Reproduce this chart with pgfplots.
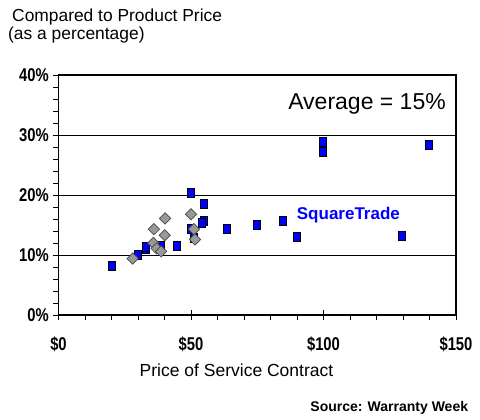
\documentclass[border=0pt]{standalone}
\usepackage{fontspec}
\setmainfont{Liberation Sans}
\usepackage{graphicx}
\usepackage{pgfplots}
\pgfplotsset{compat=1.18}
\definecolor{sqblue}{RGB}{0,0,255}
\definecolor{dgray}{RGB}{153,153,153}
\definecolor{dgrayline}{RGB}{70,70,70}
\newcommand\tl[1]{\scalebox{0.8}[1]{\fontsize{18.5}{18.5}\selectfont\bfseries #1}}
\begin{document}
\begin{tikzpicture}
\useasboundingbox (0pt,0pt) rectangle (480pt,420pt);
\node[anchor=base west, inner sep=0pt, font=\fontsize{17.4}{17.4}\selectfont] at (12pt,398pt) {Compared to Product Price};
\node[anchor=base west, inner sep=0pt, font=\fontsize{17.4}{17.4}\selectfont] at (8pt,380.5pt) {(as a percentage)};
\begin{axis}[at={(58.5pt,105pt)}, anchor=south west, scale only axis,
  width=397.5pt, height=240pt,
  xmin=0, xmax=150, ymin=0, ymax=40,
  xtick={0,50,100,150},
  xticklabels={\tl{\$0},\tl{\$50},\tl{\$100},\tl{\$150}},
  minor xtick={10,20,30,40,60,70,80,90,110,120,130,140},
  ytick={0,10,20,30,40},
  yticklabels={\tl{0\%},\tl{10\%},\tl{20\%},\tl{30\%},\tl{40\%}},
  minor ytick={2,4,6,8,12,14,16,18,22,24,26,28,32,34,36,38},
  xtick pos=bottom, ytick pos=left,
  tick align=outside, major tick length=5.5pt, minor tick length=5.5pt,
  tick style={black, line width=0.8pt},
  axis line style={line width=1.1pt},
  ymajorgrids, grid style={black, line width=0.9pt},
  xticklabel style={anchor=north, inner sep=0pt, yshift=-16pt},
  yticklabel style={anchor=east, inner sep=0pt, xshift=-4pt},
  extra x ticks={50,100}, extra x tick labels={},
  extra x tick style={tick align=inside, major tick length=5pt},
  clip=false,
]
\addplot[only marks, mark=square*, mark size=4.4pt,
  mark options={xscale=0.8, fill=sqblue, draw=black, line width=0.7pt}]
coordinates {
(20,8.2) (30,10.05) (33,11.0) (33,11.4) (38.8,11.5) (44.8,11.5)
(49.9,20.3) (54.9,18.5) (54.9,15.7) (54.2,15.3) (63.7,14.35)
(49.9,14.3) (50.9,12.8) (99.9,28.9) (99.9,27.2) (139.8,28.3)
(75,15.0) (84.8,15.7) (89.9,13.05) (129.6,13.2)
};
\addplot[only marks, mark=square*, mark size=4pt,
  mark options={rotate=45, fill=dgray, draw=dgrayline, line width=0.7pt}]
coordinates {
(28,9.4) (35.8,12.0) (37,11.1) (38.7,10.6) (36,14.3)
(40.2,16.1) (40.1,13.3) (50,16.8) (51.1,14.3) (51.5,12.6)
};
\end{axis}
\node[anchor=base east, inner sep=0pt, font=\fontsize{23}{23}\selectfont] at (446pt,310.7pt) {Average = 15\%};
\node[anchor=base west, inner sep=0pt, text=sqblue, font=\fontsize{17}{17}\selectfont\bfseries] at (296.7pt,200.7pt) {SquareTrade};
\node[anchor=base, inner sep=0pt, font=\fontsize{17.5}{17.5}\selectfont] at (236.5pt,43.3pt) {Price of Service Contract};
\node[anchor=base east, inner sep=0pt, font=\fontsize{14}{14}\selectfont\bfseries] at (468.3pt,8pt) {Source: Warranty Week};
\end{tikzpicture}
\end{document}
